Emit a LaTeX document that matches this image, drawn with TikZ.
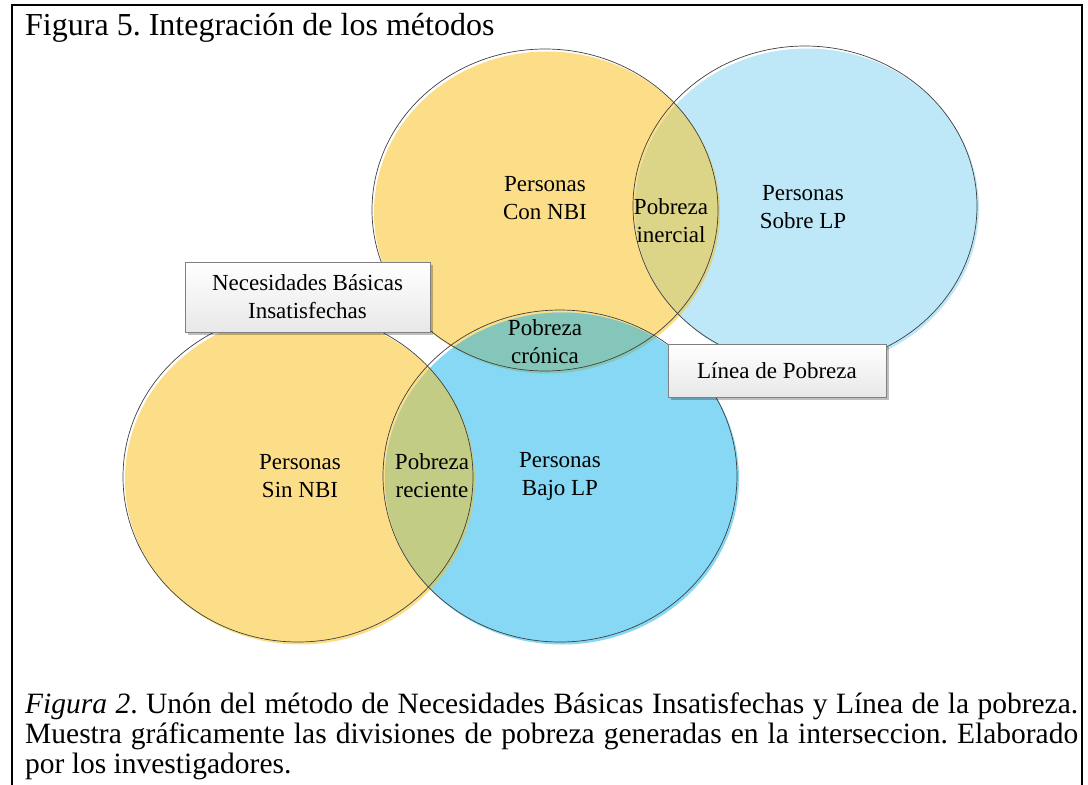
\documentclass[tikz,border=0pt]{standalone}
\usepackage{fontspec}
\setmainfont{Liberation Serif}
\usepackage{tikz}
\usetikzlibrary{shapes.geometric, shadows}
\frenchspacing

\definecolor{amarillo}{RGB}{252,222,136}
\definecolor{celeste}{RGB}{190,232,248}
\definecolor{azul}{RGB}{134,216,244}
\definecolor{inercial}{RGB}{220,212,134}
\definecolor{cronica}{RGB}{132,199,186}
\definecolor{reciente}{RGB}{195,204,133}

\tikzset{
  rNBI/.style={x radius=173, y radius=161},
  rSobre/.style={x radius=172, y radius=160},
  rSin/.style={x radius=175, y radius=165},
  rBajo/.style={x radius=177, y radius=166},
  borde/.style={draw=black!75, line width=0.7pt},
  texto/.style={align=center, inner sep=0pt, font=\fontsize{23}{28}\selectfont},
  caja/.style={draw=black!50, line width=0.8pt, top color=white, bottom color=black!9,
    align=center, font=\fontsize{23}{28}\selectfont,
    drop shadow={shadow xshift=2.5pt, shadow yshift=-2.5pt, opacity=0.25, fill=black}}
}

\begin{document}
\begin{tikzpicture}[x=1pt,y=-1pt]
  \useasboundingbox (0,0) rectangle (1088,785);
  \draw[line width=2pt] (12,785)--(12,5)--(1082,5)--(1082,785); %marco
  \node[anchor=base west, inner sep=0pt, font=\fontsize{32}{32}\selectfont] (titulo) at (25,35) {Figura 5. Integración de los métodos};

  \coordinate (cNBI) at (545,210);  %con NBI
  \coordinate (cSobre) at (805,206); %sobre LP
  \coordinate (cSin) at (298,477);  %sin NBI
  \coordinate (cBajo) at (560,476); %bajo LP

  \begin{scope}[transform canvas={shift={(2pt,-2.5pt)}}] %relleno
    \fill[amarillo] (cNBI) ellipse [rNBI];
    \fill[celeste] (cSobre) ellipse [rSobre];
    \fill[amarillo] (cSin) ellipse [rSin];
    \fill[azul] (cBajo) ellipse [rBajo];
    \begin{scope}
      \clip (cNBI) ellipse [rNBI];
      \fill[inercial] (cSobre) ellipse [rSobre];
      \fill[cronica] (cBajo) ellipse [rBajo];
    \end{scope}
    \begin{scope}
      \clip (cSin) ellipse [rSin];
      \fill[reciente] (cBajo) ellipse [rBajo];
    \end{scope}
  \end{scope}
  \draw[borde] (cNBI) ellipse [rNBI];
  \draw[borde] (cSobre) ellipse [rSobre];
  \draw[borde] (cSin) ellipse [rSin];
  \draw[borde] (cBajo) ellipse [rBajo];

  \node[texto] (conNBI) at (545,198) {Personas\\Con NBI};
  \node[texto] (pInercial) at (671,221) {Pobreza\\inercial};
  \node[texto] (sobreLP) at (803,207) {Personas\\Sobre LP};
  \node[texto] (pCronica) at (545,342) {Pobreza\\crónica};
  \node[texto] (sinNBI) at (300,476) {Personas\\Sin NBI};
  \node[texto] (pReciente) at (432,476) {Pobreza\\reciente};
  \node[texto] (bajoLP) at (560,476) {Personas\\Bajo LP};

  \node[caja, minimum width=245pt, minimum height=70pt] (cajaNBI) at (307.5,297) {Necesidades Básicas\\Insatisfechas};
  \node[caja, minimum width=218pt, minimum height=53pt] (cajaLP) at (777,370.5) {Línea de Pobreza};

  \node[anchor=base west, inner sep=0pt, text width=1053pt, align=justify,
    font=\fontsize{29.5}{30}\selectfont] (nota) at (25,713)
    {\textit{Figura 2}. Unón del método de Necesidades Básicas Insatisfechas y Línea de la pobreza.\linebreak
     Muestra gráficamente las divisiones de pobreza generadas en la interseccion. Elaborado\linebreak
     por los investigadores.};
\end{tikzpicture}
\end{document}
